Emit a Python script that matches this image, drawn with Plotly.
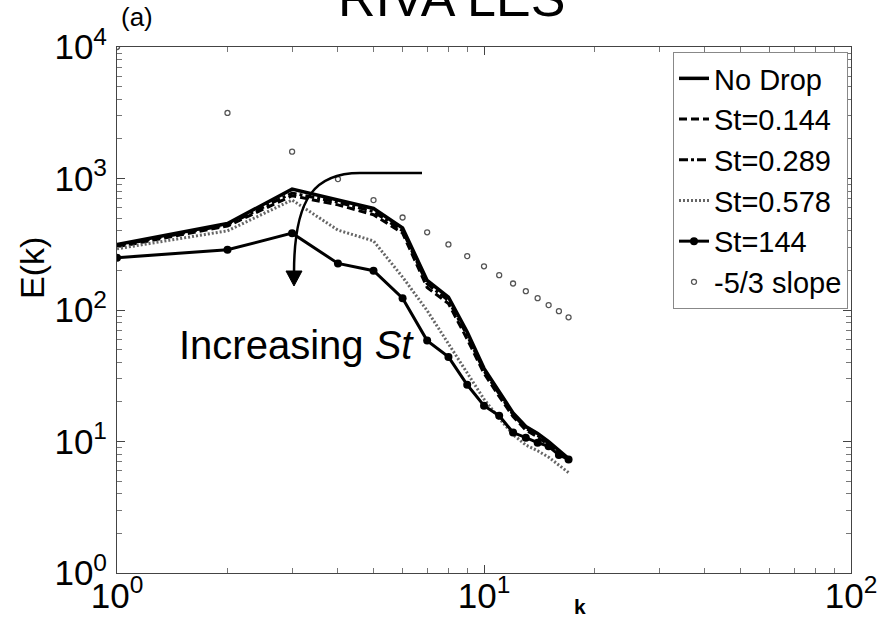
import plotly.graph_objects as go

# ---- data ----
k = [1, 2, 3, 4, 5, 6, 7, 8, 9, 10, 11, 12, 13, 14, 15, 16, 17]
no_drop = [315, 455, 830, 690, 592, 420, 168, 125, 68, 36, 24, 16.5, 13, 11.5, 10, 8.6, 7.4]
st_0144 = [302, 435, 740, 630, 530, 385, 148, 112, 60, 33, 22, 15.5, 12.2, 10.8, 9.4, 8.2, 7.2]
st_0289 = [308, 445, 775, 660, 560, 400, 158, 118, 64, 34.5, 23, 16, 12.6, 11.1, 9.7, 8.4, 7.3]
st_0578 = [292, 400, 686, 405, 335, 178, 99, 55, 33, 21, 15, 11.3, 9.4, 8.5, 7.6, 6.6, 5.8]
st_144 = [250, 287, 384, 226, 199, 123, 58.5, 44, 27, 18.7, 15.7, 11.7, 10.7, 9.8, 9.2, 7.9, 7.3]
slope_53 = [10000, 3150, 1600, 990, 685, 505, 390, 315, 257, 215, 184, 159, 139, 123, 109, 98, 88]

names = ["No Drop", "St=0.144", "St=0.289", "St=0.578", "St=144", "-5/3 slope"]

x_ticks = [1, 10, 100]
x_ticktext = ["10<sup>0</sup>", "10<sup>1</sup>", "10<sup>2</sup>"]
y_ticks = [1, 10, 100, 1000, 10000]
y_ticktext = ["10<sup>0</sup>", "10<sup>1</sup>", "10<sup>2</sup>", "10<sup>3</sup>", "10<sup>4</sup>"]
x_minor = [2, 3, 4, 5, 6, 7, 8, 9, 20, 30, 40, 50, 60, 70, 80, 90]
y_minor = [2, 3, 4, 5, 6, 7, 8, 9, 20, 30, 40, 50, 60, 70, 80, 90,
           200, 300, 400, 500, 600, 700, 800, 900, 2000, 3000, 4000, 5000, 6000, 7000, 8000, 9000]

FONT = "Liberation Sans, Arial, sans-serif"

# plot area in pixels
W, H = 883, 621
L, R, T, B = 117, 32, 47, 48
PW, PH = W - L - R, H - T - B


def px(x, y):
    return (x - L) / PW, (H - B - y) / PH


fig = go.Figure()
fig.add_trace(go.Scatter(x=k, y=no_drop, name=names[0], mode="lines",
                         line=dict(color="black", width=3.5)))
fig.add_trace(go.Scatter(x=k, y=st_0144, name=names[1], mode="lines",
                         line=dict(color="black", width=3, dash="8px,4px")))
fig.add_trace(go.Scatter(x=k, y=st_0289, name=names[2], mode="lines",
                         line=dict(color="black", width=3, dash="9px,3px,3px,3px")))
fig.add_trace(go.Scatter(x=k, y=st_0578, name=names[3], mode="lines",
                         line=dict(color="#666666", width=3, dash="2px,2px")))
fig.add_trace(go.Scatter(x=k, y=st_144, name=names[4], mode="lines+markers",
                         line=dict(color="black", width=3),
                         marker=dict(symbol="circle", size=8, color="black")))
fig.add_trace(go.Scatter(x=k, y=slope_53, name=names[5], mode="markers",
                         marker=dict(symbol="circle-open", size=5, color="#555555",
                                     line=dict(width=1.3, color="#555555"))))

# curved arrow
p0 = px(422, 173)
p1 = px(360, 173)
c1 = px(316, 173)
c2 = px(294, 196)
p2 = px(294, 273)
path = (f"M {p0[0]},{p0[1]} L {p1[0]},{p1[1]} "
        f"C {c1[0]},{c1[1]} {c2[0]},{c2[1]} {p2[0]},{p2[1]}")
fig.add_shape(type="path", xref="paper", yref="paper", path=path,
              line=dict(color="black", width=2.5))
a = px(286, 271)
b = px(302, 271)
c = px(294, 286)
fig.add_shape(type="path", xref="paper", yref="paper",
              path=f"M {a[0]},{a[1]} L {b[0]},{b[1]} L {c[0]},{c[1]} Z",
              fillcolor="black", line=dict(color="black", width=1))

# annotations
tx, ty = px(296, 345)
fig.add_annotation(xref="paper", yref="paper", x=tx, y=ty, showarrow=False,
                   text="Increasing <i>St</i>", font=dict(family=FONT, size=40, color="black"),
                   xanchor="center", yanchor="middle")
tx, ty = px(451, -2)
fig.add_annotation(xref="paper", yref="paper", x=tx, y=ty, showarrow=False,
                   text="RIVA LES", font=dict(family=FONT, size=52, color="black"),
                   xanchor="center", yanchor="middle")
tx, ty = px(119, 17)
fig.add_annotation(xref="paper", yref="paper", x=tx, y=ty, showarrow=False,
                   text="(a)", font=dict(family=FONT, size=26, color="black"),
                   xanchor="left", yanchor="middle")
tx, ty = px(580, 606)
fig.add_annotation(xref="paper", yref="paper", x=tx, y=ty, showarrow=False,
                   text="<b>k</b>", font=dict(family=FONT, size=21, color="black"),
                   xanchor="center", yanchor="middle")
tx, ty = px(32, 268)
fig.add_annotation(xref="paper", yref="paper", x=tx, y=ty, showarrow=False,
                   text="E(k)", textangle=-90, font=dict(family=FONT, size=34, color="black"),
                   xanchor="center", yanchor="middle")

axis_common = dict(
    type="log", showgrid=False, zeroline=False, automargin=False,
    showline=True, linecolor="#444444", linewidth=1, mirror="ticks",
    ticks="inside", ticklen=8, tickcolor="#444444", tickwidth=1,
    tickmode="array",
    tickfont=dict(family=FONT, size=35, color="black"),
)

fig.update_xaxes(range=[0, 2], tickvals=x_ticks, ticktext=x_ticktext,
                 ticklabelstandoff=-8,
                 minor=dict(ticks="inside", ticklen=5, tickcolor="#777777",
                            tickmode="array", tickvals=x_minor, showgrid=False),
                 **axis_common)
fig.update_yaxes(range=[0, 4], tickvals=y_ticks, ticktext=y_ticktext,
                 ticklabelstandoff=2,
                 minor=dict(ticks="inside", ticklen=5, tickcolor="#777777",
                            tickmode="array", tickvals=y_minor, showgrid=False),
                 **axis_common)

lx, ly = px(848, 52)
fig.update_layout(
    width=W, height=H,
    margin=dict(l=L, r=R, t=T, b=B, autoexpand=False),
    paper_bgcolor="white", plot_bgcolor="white",
    font=dict(family=FONT, color="black"),
    showlegend=True,
    legend=dict(x=lx, y=ly, xanchor="right", yanchor="top",
                bgcolor="white", bordercolor="#888888", borderwidth=1,
                font=dict(family=FONT, size=29, color="black"),
                itemwidth=30, tracegroupgap=0),
)

fig.write_html("out.html")
